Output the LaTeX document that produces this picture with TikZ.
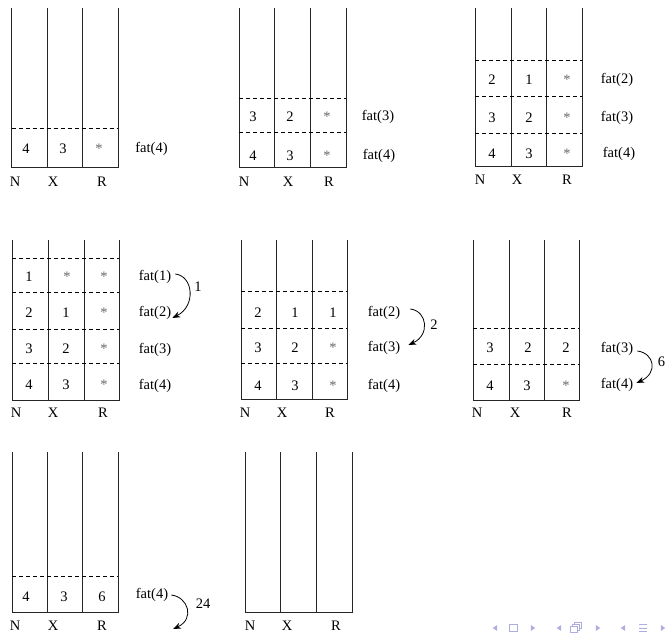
\documentclass[tikz,border=0pt]{standalone}
\usepackage{fontspec}
\setmainfont{Liberation Serif}
\usetikzlibrary{arrows.meta,calc}
\newcommand\drawcols[6]{%
  \draw[colline] (#1,#5) -- (#1,#6) -- (#4,#6) -- (#4,#5);
  \draw[colline] (#2,#5) -- (#2,#6);
  \draw[colline] (#3,#5) -- (#3,#6);}
\newcommand\navtri[2]{\fill[navc] (#1-2.2,#2) -- (#1+2.2,#2-3) -- (#1+2.2,#2+3) -- cycle;}
\newcommand\navtrr[2]{\fill[navc] (#1+2.2,#2) -- (#1-2.2,#2-3) -- (#1-2.2,#2+3) -- cycle;}
\begin{document}
\begin{tikzpicture}[x=1pt,y=-1pt,
  colline/.style={line width=0.8pt, black!85},
  dashline/.style={line width=0.7pt, dash pattern=on 4pt off 3pt},
  txt/.style={inner sep=0pt, font=\fontsize{14.5}{17}\selectfont},
  starc/.style={txt, text=black!60},
  arr/.style={line width=0.8pt, -{Stealth[length=8pt,width=6pt]}},
  navc/.style={color={rgb,255:red,173;green,173;blue,224}}]
\useasboundingbox (0,0) rectangle (666,635);

% ---------- Panel 1
\drawcols{11.5}{47}{82}{118}{8}{167}
\draw[dashline] (11.5,128) -- (118,128);
\node[txt] (p1a) at (26,149) {4};
\node[txt] (p1b) at (63,149) {3};
\node[starc] (p1c) at (99,149) {*};
\node[txt] (p1f4) at (151.5,149) {fat(4)};
\node[txt] (p1N) at (15,182) {N};
\node[txt] (p1X) at (53,182) {X};
\node[txt] (p1R) at (102,182) {R};

% ---------- Panel 2
\drawcols{239}{274}{310}{346}{8}{167}
\draw[dashline] (239,98) -- (346,98);
\draw[dashline] (239,132) -- (346,132);
\node[txt] (p2a1) at (253,117) {3};
\node[txt] (p2b1) at (290,117) {2};
\node[starc] (p2c1) at (327,117) {*};
\node[txt] (p2f3) at (378,117) {fat(3)};
\node[txt] (p2a2) at (253,156) {4};
\node[txt] (p2b2) at (290,156) {3};
\node[starc] (p2c2) at (327,156) {*};
\node[txt] (p2f4) at (379,156) {fat(4)};
\node[txt] (p2N) at (244,182) {N};
\node[txt] (p2X) at (288,182) {X};
\node[txt] (p2R) at (329,182) {R};

% ---------- Panel 3
\drawcols{475}{511}{546}{582}{8}{166}
\draw[dashline] (475,60) -- (582,60);
\draw[dashline] (475,96) -- (582,96);
\draw[dashline] (475,133) -- (582,133);
\node[txt] (p3a1) at (492,80) {2};
\node[txt] (p3b1) at (529,80) {1};
\node[starc] (p3c1) at (567,80) {*};
\node[txt] (p3f2) at (617,80) {fat(2)};
\node[txt] (p3a2) at (492,118) {3};
\node[txt] (p3b2) at (529,118) {2};
\node[starc] (p3c2) at (567,118) {*};
\node[txt] (p3f3) at (617,118) {fat(3)};
\node[txt] (p3a3) at (492,154) {4};
\node[txt] (p3b3) at (529,154) {3};
\node[starc] (p3c3) at (567,154) {*};
\node[txt] (p3f4) at (619,154) {fat(4)};
\node[txt] (p3N) at (480,180) {N};
\node[txt] (p3X) at (517,180) {X};
\node[txt] (p3R) at (567,180) {R};

% ---------- Panel 4
\drawcols{12}{48}{84}{119}{240}{400}
\foreach \yy in {258,292,329,363} \draw[dashline] (12,\yy) -- (119,\yy);
\node[txt] (p4a1) at (29,277) {1};
\node[starc] (p4b1) at (67,277) {*};
\node[starc] (p4c1) at (104,277) {*};
\node[txt] (p4a2) at (29,313) {2};
\node[txt] (p4b2) at (66,313) {1};
\node[starc] (p4c2) at (104,313) {*};
\node[txt] (p4a3) at (29,349) {3};
\node[txt] (p4b3) at (66,349) {2};
\node[starc] (p4c3) at (104,349) {*};
\node[txt] (p4a4) at (29,385) {4};
\node[txt] (p4b4) at (66,385) {3};
\node[starc] (p4c4) at (104,385) {*};
\node[txt] (p4f1) at (155,277) {fat(1)};
\node[txt] (p4f2) at (155,313) {fat(2)};
\node[txt] (p4f3) at (155,350) {fat(3)};
\node[txt] (p4f4) at (155,386) {fat(4)};
\draw[arr] ($(p4f1.east)+(4,-3)$) .. controls +(18,2) and +(24,-12) .. ($(p4f2.east)+(1,5)$);
\node[txt] (p4v) at (198,287) {1};
\node[txt] (p4N) at (16,413) {N};
\node[txt] (p4X) at (53,413) {X};
\node[txt] (p4R) at (103,413) {R};

% ---------- Panel 5
\drawcols{241}{276}{312}{347}{240}{399}
\foreach \yy in {291,328,363} \draw[dashline] (241,\yy) -- (347,\yy);
\node[txt] (p5a1) at (258,313) {2};
\node[txt] (p5b1) at (295,313) {1};
\node[txt] (p5c1) at (333,313) {1};
\node[txt] (p5a2) at (258,348) {3};
\node[txt] (p5b2) at (295,348) {2};
\node[starc] (p5c2) at (333,348) {*};
\node[txt] (p5a3) at (258,386) {4};
\node[txt] (p5b3) at (295,386) {3};
\node[starc] (p5c3) at (333,386) {*};
\node[txt] (p5f2) at (384,313) {fat(2)};
\node[txt] (p5f3) at (384,348) {fat(3)};
\node[txt] (p5f4) at (384,386) {fat(4)};
\draw[arr] ($(p5f2.east)+(10,-4)$) .. controls +(17,2) and +(22,-10) .. ($(p5f3.east)+(8,-3)$);
\node[txt] (p5v) at (434,325) {2};
\node[txt] (p5N) at (245,413) {N};
\node[txt] (p5X) at (282,413) {X};
\node[txt] (p5R) at (330,413) {R};

% ---------- Panel 6
\drawcols{473}{509}{544}{579}{240}{400}
\foreach \yy in {328,364} \draw[dashline] (473,\yy) -- (579,\yy);
\node[txt] (p6a1) at (490,348) {3};
\node[txt] (p6b1) at (528,348) {2};
\node[txt] (p6c1) at (566,348) {2};
\node[txt] (p6a2) at (490,386) {4};
\node[txt] (p6b2) at (527,386) {3};
\node[starc] (p6c2) at (566,386) {*};
\node[txt] (p6f3) at (617,349) {fat(3)};
\node[txt] (p6f4) at (617,385) {fat(4)};
\draw[arr] ($(p6f3.east)+(4,2)$) .. controls +(17,2) and +(22,-10) .. ($(p6f4.east)+(3,-2)$);
\node[txt] (p6v) at (661.5,362) {6};
\node[txt] (p6N) at (477,413) {N};
\node[txt] (p6X) at (515,413) {X};
\node[txt] (p6R) at (567,413) {R};

% ---------- Panel 7
\drawcols{12}{47}{82}{118}{452}{612}
\draw[dashline] (12,576) -- (118,576);
\node[txt] (p7a) at (26,597) {4};
\node[txt] (p7b) at (64,597) {3};
\node[txt] (p7c) at (102,597) {6};
\node[txt] (p7f4) at (152,595) {fat(4)};
\coordinate (p7end) at (173,629);
\draw[arr] ($(p7f4.east)+(3,0)$) .. controls +(17,2) and +(22,-10) .. (p7end);
\node[txt] (p7v) at (203,604) {24};
\node[txt] (p7N) at (15,626) {N};
\node[txt] (p7X) at (53,626) {X};
\node[txt] (p7R) at (102,626) {R};

% ---------- Panel 8
\drawcols{245}{280}{316}{352}{452}{612}
\node[txt] (p8N) at (250,626) {N};
\node[txt] (p8X) at (287,626) {X};
\node[txt] (p8R) at (336,626) {R};

% ---------- navigation symbols
\navtri{495}{628}
\draw[navc, line width=0.8pt] (509.5,624) rectangle (517.5,631.5);
\navtrr{533}{628}
\navtri{559}{628}
\draw[navc, line width=0.7pt, fill=white] (574,622.5) rectangle (581,628.5);
\draw[navc, line width=0.7pt, fill=white] (572,624.5) rectangle (579,630.5);
\draw[navc, line width=0.7pt, fill=white] (570,626.5) rectangle (577,632.5);
\navtrr{598}{628}
\navtri{623}{628}
\draw[navc, line width=0.8pt] (639,624.5) -- (647,624.5) (639,628) -- (647,628) (639,631.5) -- (647,631.5);
\navtrr{663}{628}
\end{tikzpicture}
\end{document}
